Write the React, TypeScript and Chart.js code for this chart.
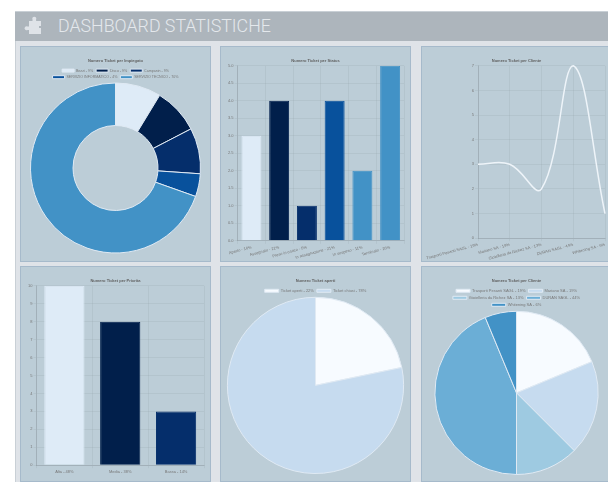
import React, { useEffect, useRef } from "react";
import { Chart, registerables } from "chart.js";

Chart.register(...registerables);

const employeeLabels = ["Bezzi - 9%", "Disco - 9%", "Campanin - 9%", "SERVIZIO INFORMATICO - 4%", "SERVIZIO TECNICO - 70%"];
const employeeValues = [2, 2, 2, 1, 16];
const statusLabels = ["Aperto - 16%", "Assegnato - 21%", "Preso in carico - 5%", "In assegnazione - 21%", "In sospeso - 11%", "Terminato - 26%"];
const statusValues = [3, 4, 1, 4, 2, 5];
const clientLabels = ["Trasporti Pesanti SAGL - 19%", "Mariano SA - 19%", "Gioielleria da Richez SA - 13%", "DURAN SAGL - 44%", "Whitening SA - 6%"];
const clientValues = [3, 3, 2, 7, 1];
const priorityLabels = ["Alta - 48%", "Media - 38%", "Bassa - 14%"];
const priorityValues = [10, 8, 3];
const openLabels = ["Ticket aperti - 22%", "Ticket chiusi - 78%"];
const openValues = [5, 18];

const darkBlues = ["#deebf7", "#011f4b", "#052e6b", "#08519c", "#4292c6", "#4292c6"];
const lightBlues = ["#f7fbff", "#c6dbef", "#9ecae1", "#6baed6", "#4292c6"];

const FONT = "Helvetica Neue, Helvetica, Arial, Liberation Sans, sans-serif";
const GRID = "rgba(0,0,0,0.045)";
const SIZE = 4;

function base(title: string, padding: any, legend: boolean, legendSize = SIZE, legendBox = 14) {
  return {
    responsive: false,
    animation: false as const,
    devicePixelRatio: 1,
    layout: { padding },
    plugins: {
      title: { display: true, text: title, color: "#5f5f5f", font: { size: SIZE, weight: "bold" as const, family: FONT }, padding: { top: 0, bottom: 3 } },
      legend: {
        display: legend,
        position: "top" as const,
        labels: { boxWidth: legendBox, boxHeight: 3, padding: 3, color: "#777", font: { size: legendSize, family: FONT } },
      },
      tooltip: { enabled: false },
    },
  };
}

function cartesian(title: string, padding: any, rotation: number, step: number, max: number, leftInset?: number) {
  return {
    ...base(title, padding, false),
    scales: {
      x: {
        grid: { color: GRID, tickLength: 3 },
        ticks: { color: "#777", font: { size: SIZE, family: FONT }, minRotation: rotation, maxRotation: rotation, padding: 1, autoSkip: false },
        afterFit: (scale: any) => {
          if (leftInset !== undefined) scale.paddingLeft = leftInset;
        },
      },
      y: {
        min: 0,
        max,
        grid: { color: GRID, tickLength: 3 },
        ticks: { color: "#777", font: { size: SIZE, family: FONT }, stepSize: step, padding: 1, callback: (v: any) => (step < 1 ? Number(v).toFixed(1) : String(v)) },
      },
    },
  };
}

// Chart.js adds a fixed 10px under a top legend; the reference keeps a smaller gap.
const tightLegend = (shrink: number) => ({
  id: "tightLegend",
  beforeInit(chart: any) {
    const fit = chart.legend.fit;
    chart.legend.fit = function () {
      fit.call(this);
      this.height -= shrink;
    };
  },
});

function Panel({ left, top, height, make }: { left: number; top: number; height: number; make: () => any }) {
  const ref = useRef<HTMLCanvasElement>(null);
  useEffect(() => {
    const chart = new Chart(ref.current!, make());
    return () => chart.destroy();
  }, []);
  return (
    <div style={{ position: "absolute", left, top, width: 191, height, background: "#bccdd7", boxSizing: "border-box", border: "1px solid #a6bacb" }}>
      <canvas ref={ref} width={189} height={height - 2} style={{ display: "block" }} />
    </div>
  );
}

const barData = (labels: string[], values: number[]) => ({
  labels,
  datasets: [{ data: values, backgroundColor: darkBlues, borderColor: darkBlues, borderWidth: 1 }],
});
const pieData = (labels: string[], values: number[], colors: string[]) => ({
  labels,
  datasets: [{ data: values, backgroundColor: colors, borderColor: "#dfe9f3", borderWidth: 1 }],
});

export default function App() {
  return (
    <div style={{ position: "fixed", inset: 0, overflow: "hidden", background: "#fff" }}>
      <div style={{ position: "absolute", left: 0, top: 0, width: 608, height: 482, filter: "blur(0.45px)" }}>
        <div style={{ position: "absolute", left: 15, top: 11, width: 600, height: 480, background: "#dfe3e8", borderTop: "1px solid #c9d0d6", borderLeft: "1px solid #c9d0d6", boxSizing: "border-box" }} />
        <div style={{ position: "absolute", left: 15, top: 12, width: 600, height: 29, background: "#adb5bc" }} />
        <svg style={{ position: "absolute", left: 23, top: 15 }} width="19" height="22" viewBox="0 0 19 22">
          <path d="M6 6h3.5V4.5a2 2 0 1 1 3.6 0V6H18v5h-2v2h2v6H6v-4H4.6a2 2 0 1 1 0-3.4H6z" fill="#dfe3e8" />
        </svg>
        <div style={{ position: "absolute", left: 58, top: 14, fontFamily: "Roboto", fontWeight: 300, fontSize: 17.8, lineHeight: "24px", color: "#e4e8ec", whiteSpace: "nowrap" }}>DASHBOARD STATISTICHE</div>
        <Panel left={20} top={46} height={216} make={() => ({
          type: "doughnut",
          data: pieData(employeeLabels, employeeValues, darkBlues),
          plugins: [tightLegend(7)],
          options: { ...base("Numero Ticket per Impiegato", { top: 11, bottom: 7, left: 9, right: 9 }, true, 3.6, 12), cutout: "50%" },
        })} />
        <Panel left={220} top={46} height={216} make={() => ({
          type: "bar",
          data: barData(statusLabels, statusValues),
          options: cartesian("Numero Ticket per Status", { top: 11, bottom: 0, left: 6, right: 6 }, 15, 0.5, 5),
        })} />
        <Panel left={421} top={46} height={216} make={() => ({
          type: "line",
          data: {
            labels: clientLabels,
            datasets: [{ data: clientValues, borderColor: "#eef4f9", borderWidth: 1.5, pointRadius: 0, tension: 0.4, fill: false, clip: false }],
          },
          options: cartesian("Numero Ticket per Cliente", { top: 11, bottom: -1, left: 6, right: 6 }, 15, 1, 7, 56),
        })} />
        <Panel left={20} top={266} height={216} make={() => ({
          type: "bar",
          data: barData(priorityLabels, priorityValues),
          options: cartesian("Numero Ticket per Priorita", { top: 11, bottom: 6, left: 6, right: 6 }, 0, 1, 10),
        })} />
        <Panel left={220} top={266} height={216} make={() => ({
          type: "pie",
          data: pieData(openLabels, openValues, lightBlues),
          plugins: [tightLegend(6)],
          options: base("Numero Ticket aperti", { top: 11, bottom: 7, left: 0, right: 0 }, true),
        })} />
        <Panel left={421} top={266} height={216} make={() => ({
          type: "pie",
          data: pieData(clientLabels, clientValues, lightBlues),
          plugins: [tightLegend(6)],
          options: base("Numero Ticket per Cliente", { top: 11, bottom: 6, left: 12, right: 12 }, true),
        })} />
      </div>
    </div>
  );
}
